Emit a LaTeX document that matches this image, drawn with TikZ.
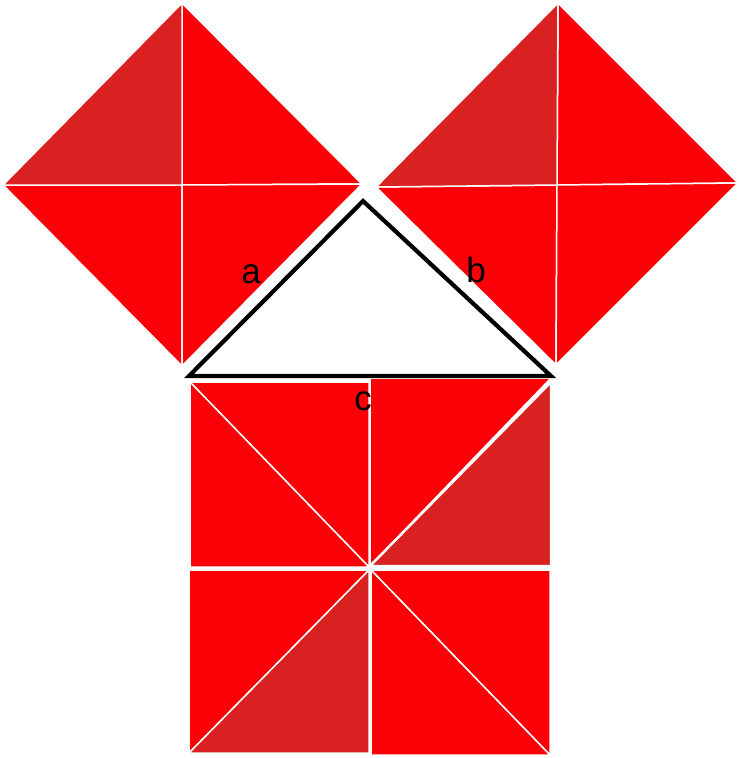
\documentclass[tikz,border=0pt]{standalone}
\usepackage{fontspec}
\setmainfont{Liberation Sans}
\definecolor{brightred}{RGB}{252,0,7}
\definecolor{darkred}{RGB}{217,33,33}
\begin{document}
\begin{tikzpicture}[x=1pt,y=-1pt,
    piece/.style={fill=brightred,draw=white,line width=1.5pt,line join=round},
    darkpiece/.style={piece,fill=darkred},
    sidelabel/.style={font=\fontsize{35}{40}\selectfont,inner sep=0pt}]
  \useasboundingbox (0,0) rectangle (739,758);

  % square on a
  \draw[piece] (182,3) -- (362,184) -- (182,185) -- cycle;
  \draw[piece] (3,185) -- (182,366) -- (182,185) -- cycle;
  \draw[piece] (362,184) -- (182,366) -- (182,185) -- cycle;
  \draw[darkpiece] (182,3) -- (3,185) -- (182,185) -- cycle;

  % square on b
  \draw[piece] (558,3) -- (738,183) -- (557,185) -- cycle;
  \draw[piece] (376,187) -- (556,365) -- (557,185) -- cycle;
  \draw[piece] (738,183) -- (556,365) -- (557,185) -- cycle;
  \draw[darkpiece] (558,3) -- (376,187) -- (557,185) -- cycle;

  % square on c
  \draw[piece] (190,382) -- (369,382) -- (369,567) -- cycle;
  \draw[piece] (190,382) -- (190,567) -- (369,567) -- cycle;
  \draw[piece] (370,378) -- (551,378) -- (370,566) -- cycle;
  \draw[darkpiece,line width=2.5pt] (551,382) -- (551,566) -- (370,566) -- cycle;
  \draw[piece] (189,570) -- (369,570) -- (189,753) -- cycle;
  \draw[darkpiece] (369,570) -- (369,753) -- (189,753) -- cycle;
  \draw[piece] (371,570) -- (550,570) -- (550,755) -- cycle;
  \draw[piece] (371,570) -- (371,755) -- (550,755) -- cycle;

  % the triangle
  \coordinate (top) at (363,201);
  \coordinate (left) at (189,376);
  \coordinate (right) at (551,376);
  \draw[black,fill=white,line width=4.2pt] (top) -- (left) -- (right) -- cycle;

  \node[sidelabel] (la) at (251,274) {a};
  \node[sidelabel] (lb) at (476,270) {b};
  \node[sidelabel] (lc) at (363,401) {c};
\end{tikzpicture}
\end{document}
